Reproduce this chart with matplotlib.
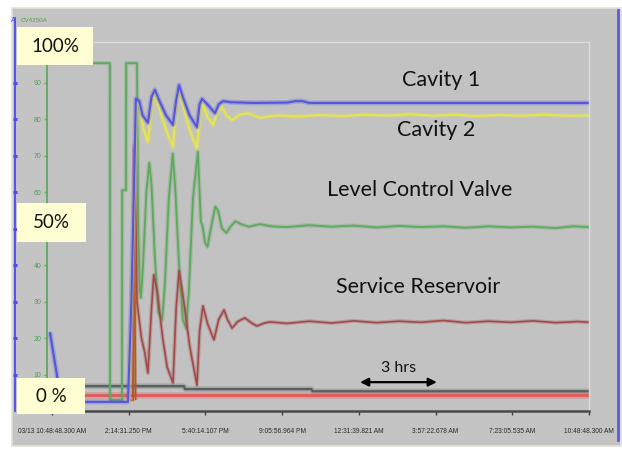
"""
Cavity / valve / reservoir trend screenshot - recreated with matplotlib
x axis is hours from 03/13 10:48:48.300 AM (24 h span), y axis is percent
"""
import matplotlib
matplotlib.use("Agg")
import matplotlib.pyplot as plt
from matplotlib.patches import Rectangle
from matplotlib.lines import Line2D

W, H = 622, 450

# ---- data (hours, percent) ----
tick_labels = ["03/13 10:48:48.300 AM", "2:14:31.250 PM", "5:40:14.107 PM",
               "9:05:56.964 PM", "12:31:39.821 AM", "3:57:22.678 AM",
               "7:23:05.535 AM", "10:48:48.300 AM"]
tick_hours = [0, 3.4286, 6.8571, 10.2857, 13.7143, 17.1429, 20.5714, 24]

cav1_h = [-0.09, 0.22, 0.36, 3.40, 3.55, 3.70, 3.75, 3.90, 4.05, 4.29, 4.45, 4.60,
          4.80, 5.10, 5.41, 5.55, 5.68, 5.85, 6.15, 6.48, 6.60, 6.71, 6.95, 7.29,
          7.45, 7.64, 8.0, 9.0, 10.5, 10.9, 11.2, 11.5, 14.0, 24.0]
cav1_v = [21.6, 10.0, 2.5, 2.5, 30.0, 70.0, 85.5, 85.0, 81.0, 79.0, 86.0, 88.0,
          85.0, 81.0, 78.4, 85.0, 89.3, 86.0, 81.0, 77.8, 84.0, 85.5, 84.0, 81.6,
          84.0, 84.9, 84.6, 84.4, 84.5, 84.9, 84.9, 84.4, 84.4, 84.4]

cav2_h = [3.45, 3.80, 3.95, 4.10, 4.29, 4.45, 4.60, 4.80, 5.10, 5.41, 5.55, 5.68,
          5.85, 6.15, 6.48, 6.62, 6.73, 6.95, 7.20, 7.40, 7.60, 7.80, 8.05, 8.40,
          8.76, 9.30, 10.06, 11, 12, 13, 14, 15, 16, 17, 18, 19, 20, 21, 22, 23, 24]
cav2_v = [2.0, 84.4, 83.0, 77.0, 73.7, 83.0, 87.0, 83.0, 77.0, 72.3, 83.0, 88.0,
          84.0, 77.0, 72.0, 81.0, 84.4, 80.5, 78.4, 82.0, 83.3, 81.0, 79.7, 81.2,
          81.6, 80.3, 81.0, 80.7, 81.1, 80.8, 81.2, 80.9, 81.3, 80.9, 81.2, 80.8,
          81.1, 80.9, 81.2, 80.9, 81.0]

lcv_h = [-0.2, 2.59, 2.60, 3.13, 3.14, 3.31, 3.32, 3.80, 3.86, 3.93, 3.98, 4.07,
         4.22, 4.35, 4.45, 4.60, 4.76, 4.93, 5.05, 5.22, 5.40, 5.52, 5.68, 5.85,
         6.00, 6.12, 6.30, 6.52, 6.60, 6.65, 6.72, 6.85, 6.95, 7.10, 7.30, 7.42,
         7.60, 7.80, 7.98, 8.20, 8.45, 8.80, 9.30, 9.80, 10.5, 11.5, 12.5, 13.5,
         14.5, 15.5, 16.5, 17.5, 18.5, 19.5, 20.5, 21.5, 22.5, 23.3, 24.0]
lcv_v = [95.3, 95.3, 3.0, 3.0, 60.5, 60.5, 95.3, 95.3, 50.0, 33.0, 31.0, 40.0,
         60.0, 68.0, 62.0, 42.0, 27.0, 25.0, 35.0, 58.0, 70.5, 60.0, 40.0, 25.0,
         22.7, 33.0, 58.0, 71.0, 60.0, 52.0, 51.0, 46.0, 45.0, 50.0, 56.0, 55.0,
         50.0, 48.8, 50.5, 52.0, 51.2, 50.5, 51.2, 50.6, 50.4, 50.9, 50.5, 50.8,
         50.3, 50.7, 50.4, 50.6, 50.2, 50.6, 50.3, 50.5, 50.1, 50.6, 50.4]

res_h = [3.55, 3.62, 3.70, 3.80, 4.00, 4.15, 4.29, 4.45, 4.55, 4.70, 4.95, 5.15,
         5.41, 5.55, 5.68, 5.85, 6.15, 6.48, 6.60, 6.75, 6.95, 7.24, 7.45, 7.69,
         7.85, 8.05, 8.30, 8.62, 8.95, 9.16, 9.50, 9.75, 10.5, 11.5, 12.5, 13.5,
         14.5, 15.5, 16.5, 17.5, 18.5, 19.5, 20.5, 21.5, 22.5, 23.5, 24.0]
res_v = [4.0, 4.0, 73.0, 30.0, 20.0, 16.0, 10.4, 28.0, 37.3, 33.0, 20.0, 12.0,
         7.7, 28.0, 38.4, 32.0, 18.0, 7.1, 22.0, 28.8, 24.0, 19.5, 25.0, 27.7,
         25.0, 22.7, 24.5, 25.5, 24.0, 23.3, 24.1, 24.4, 24.0, 24.6, 24.1, 24.7,
         24.2, 24.6, 24.3, 24.8, 24.2, 24.6, 24.3, 24.7, 24.2, 24.5, 24.3]

spike_h = [3.50, 3.64, 3.68, 3.74]
spike_v = [3.0, 3.0, 72.0, 3.0]

gray_h = [-0.2, 5.9, 5.95, 11.6, 11.65, 24.0]
gray_v = [6.8, 6.8, 6.0, 6.0, 5.4, 5.4]

redlow_h = [-0.2, 24.0]
redlow_v = [4.3, 4.3]

# label text positions (hours, percent)
series_names = ["Cavity 1", "Cavity 2", "Level Control Valve", "Service Reservoir"]
name_pos = [(17.39, 90.7), (17.17, 77.0), (16.45, 60.5), (16.36, 34.0)]
arrow_span = (13.77, 17.20)
arrow_level = 7.9

pct_labels = ["100%", "50%", "0 %"]


def fx(x):
    return x / W


def fy(y):
    return (H - y) / H


def trace(ax, x, y, color, lw):
    # soft halo underneath, like the blurry screenshot lines
    ax.plot(x, y, color=color, lw=lw * 2.4, alpha=0.3, solid_capstyle="butt")
    ax.plot(x, y, color=color, lw=lw, solid_capstyle="butt")


def main():
    fig = plt.figure(figsize=(W / 100, H / 100), dpi=100, facecolor="white")

    # outer gray panel of the trend window
    fig.add_artist(Rectangle((fx(12), fy(446)), fx(609), (446 - 8) / H,
                             transform=fig.transFigure, facecolor="#c4c4c4",
                             edgecolor="#e4e2d6", lw=1.2, zorder=0))
    fig.add_artist(Line2D([fx(618), fx(618)], [fy(440), fy(10)],
                          transform=fig.transFigure, color="#5a5ae8", lw=2))
    # blue scale line on the far left (runs above the plot area)
    fig.add_artist(Line2D([fx(15), fx(15)], [fy(411), fy(18)],
                          transform=fig.transFigure, color="#4b4bf0", lw=1.3))

    ax = fig.add_axes([fx(47), fy(411), fx(589 - 47), (411 - 42) / H])
    ax.set_facecolor("#c2c2c2")
    ax.set_xlim(-0.22, 24.0)
    ax.set_ylim(0, 101.1)

    trace(ax, gray_h, gray_v, "#566060", 1.6)
    trace(ax, redlow_h, redlow_v, "#e05a5a", 2.0)
    trace(ax, lcv_h, lcv_v, "#5fa85f", 1.3)
    trace(ax, res_h, res_v, "#a24a4a", 1.2)
    trace(ax, spike_h, spike_v, "#b8581e", 1.0)
    trace(ax, cav2_h, cav2_v, "#e6e64e", 1.4)
    trace(ax, cav1_h, cav1_v, "#5555e0", 1.5)

    for name, (hx, vy) in zip(series_names, name_pos):
        ax.text(hx, vy, name, ha="center", va="center", fontsize=15.5,
                family="Lato", color="#111111")
    ax.annotate("", xy=(arrow_span[1], arrow_level), xytext=(arrow_span[0], arrow_level),
                arrowprops=dict(arrowstyle="<|-|>", color="black", lw=1.6,
                                mutation_scale=12, shrinkA=0, shrinkB=0))
    ax.text(sum(arrow_span) / 2, arrow_level + 4.0, "3 hrs", ha="center",
            va="center", fontsize=11.5, family="Lato", color="#111111")

    # axes styling
    for side in ["top", "right"]:
        ax.spines[side].set_color("#dcdcdc")
        ax.spines[side].set_linewidth(1.0)
    ax.spines["left"].set_color("#5fa85f")
    ax.spines["left"].set_linewidth(1.3)
    ax.spines["bottom"].set_color("#4a4a4a")
    ax.spines["bottom"].set_linewidth(1.8)

    ax.set_xticks(tick_hours)
    ax.set_xticklabels(tick_labels)
    ax.tick_params(axis="x", length=3, width=1, color="#404040", pad=9,
                   labelsize=4.8, labelcolor="#2a2a2a")
    for lab in ax.get_xticklabels():
        lab.set_family("Liberation Sans")
    # 0, 50 and 100 sit under the yellow call-outs, so leave them blank
    ax.set_yticks(range(0, 101, 10))
    ax.set_yticklabels(["" if v in (0, 50, 100) else str(v) for v in range(0, 101, 10)])
    ax.tick_params(axis="y", length=2, width=1, color="#5fa85f", pad=2,
                   labelsize=5, labelcolor="#4e9e4e")
    for lab in ax.get_yticklabels():
        lab.set_family("Liberation Sans")

    # second (blue) scale further left, dots only
    ax2 = ax.twinx()
    ax2.set_ylim(0, 101.1)
    ax2.yaxis.tick_left()
    ax2.spines["left"].set_position(("outward", 23))
    for side in ["top", "right", "bottom", "left"]:
        ax2.spines[side].set_visible(False)
    ax2.set_yticks(range(10, 100, 10))
    ax2.set_yticklabels([])
    ax2.tick_params(axis="y", direction="inout", length=2.5, width=2.2, color="#4b4bf0")

    fig.text(fx(11), fy(20), "A", color="#4b4bf0", fontsize=5, ha="left", va="center")
    fig.text(fx(21), fy(20), "CV4250A", color="#4e9e4e", fontsize=4.5,
             ha="left", va="center", family="Liberation Sans")

    # yellow percent call-out boxes
    boxes = [(17, 27, 93, 65), (17, 203, 86, 242), (17, 378, 85, 414)]
    for label, (x0, y0, x1, y1) in zip(pct_labels, boxes):
        fig.add_artist(Rectangle((fx(x0), fy(y1)), fx(x1 - x0), (y1 - y0) / H,
                                 transform=fig.transFigure, facecolor="#fefed2",
                                 edgecolor="none", zorder=5))
        fig.text(fx((x0 + x1) / 2), fy((y0 + y1) / 2), label, ha="center",
                 va="center", fontsize=13.5, family="Lato", color="#111111", zorder=6)

    fig.savefig("out.png", dpi=100, facecolor="white")


if __name__ == "__main__":
    main()
